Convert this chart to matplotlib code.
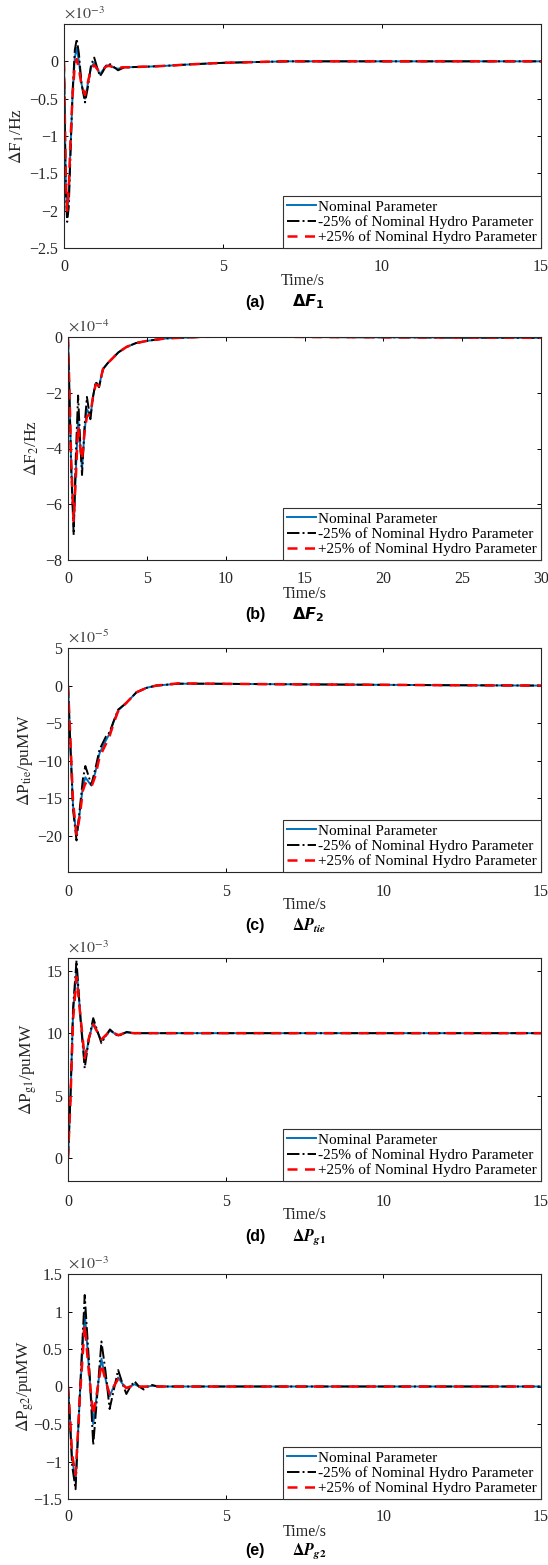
import matplotlib
matplotlib.use('Agg')
import matplotlib.pyplot as plt
from matplotlib.ticker import FuncFormatter, FixedLocator

plt.rcParams['font.family'] = ['Liberation Serif', 'DejaVu Serif']
plt.rcParams['mathtext.fontset'] = 'stix'
plt.rcParams['axes.unicode_minus'] = True

# ---------------- data ----------------
labels = ['Nominal Parameter', '-25% of Nominal Hydro Parameter',
          '+25% of Nominal Hydro Parameter']

# (a) Delta F1, x 1e-3 Hz
t_a = [0, 0.03, 0.06, 0.1, 0.15, 0.2, 0.27, 0.34, 0.4, 0.47, 0.55, 0.66, 0.75, 0.85,
       0.95, 1.04, 1.13, 1.22, 1.32, 1.42, 1.55, 1.7, 1.85, 2.0, 2.3, 2.7, 3.2, 4.0,
       5.0, 6.0, 7.0, 9.0, 12.0, 15.0]
f1_nom = [0, -0.9, -1.7, -2.05, -1.8, -1.2, -0.45, 0.05, 0.18, 0.0, -0.3, -0.5, -0.3,
          -0.08, -0.02, -0.1, -0.17, -0.12, -0.06, -0.05, -0.08, -0.1, -0.08, -0.08,
          -0.075, -0.07, -0.06, -0.04, -0.02, -0.01, 0, 0, 0, 0]
f1_minus = [0, -1.0, -1.8, -2.15, -1.95, -1.3, -0.4, 0.15, 0.3, 0.1, -0.3, -0.55, -0.35,
            -0.05, 0.05, -0.08, -0.2, -0.14, -0.06, -0.03, -0.07, -0.12, -0.09, -0.08,
            -0.075, -0.07, -0.06, -0.04, -0.02, -0.01, 0, 0, 0, 0]
f1_plus = [0, -0.85, -1.6, -2.0, -1.7, -1.1, -0.45, -0.05, 0.03, -0.1, -0.32, -0.45,
           -0.28, -0.1, -0.05, -0.1, -0.15, -0.11, -0.07, -0.06, -0.08, -0.09, -0.08,
           -0.08, -0.075, -0.07, -0.06, -0.04, -0.02, -0.01, 0, 0, 0, 0]

# (b) Delta F2, x 1e-4 Hz
t_b = [0, 0.1, 0.2, 0.36, 0.5, 0.64, 0.76, 0.89, 1.05, 1.2, 1.32, 1.42, 1.6, 1.76,
       1.97, 2.22, 2.5, 2.85, 3.2, 3.7, 4.3, 5.0, 6.2, 8.3, 10, 12, 15, 20, 25, 30]
f2_nom = [0, -2.2, -4.5, -6.8, -4.8, -2.9, -3.8, -4.7, -3.4, -2.6, -2.7, -2.85, -2.1,
          -1.65, -1.75, -1.15, -0.95, -0.75, -0.55, -0.36, -0.22, -0.14, -0.05, 0.0,
          0.02, 0.02, 0.0, -0.01, -0.02, -0.03]
f2_minus = [0, -2.3, -4.7, -7.1, -4.2, -2.1, -3.6, -4.95, -3.2, -2.15, -2.6, -2.95, -2.1,
            -1.6, -1.8, -1.15, -0.95, -0.75, -0.55, -0.36, -0.22, -0.14, -0.05, 0.0,
            0.02, 0.02, 0.0, -0.01, -0.02, -0.03]
f2_plus = [0, -2.1, -4.4, -6.6, -5.0, -3.2, -3.9, -4.4, -3.4, -2.85, -2.8, -2.75, -2.1,
           -1.7, -1.75, -1.15, -0.95, -0.75, -0.55, -0.36, -0.22, -0.14, -0.05, 0.0,
           0.02, 0.02, 0.0, -0.01, -0.02, -0.03]

# (c) Delta Ptie, x 1e-5 puMW
t_c = [0, 0.08, 0.16, 0.27, 0.37, 0.47, 0.55, 0.65, 0.74, 0.87, 1.0, 1.2, 1.32, 1.45,
       1.59, 1.85, 2.17, 2.49, 2.8, 3.5, 4.5, 6, 8, 10, 12, 15]
ptie_nom = [0, -8, -16, -20.0, -17, -13.5, -12.2, -12.8, -13.3, -11.5, -9.0, -7.3, -6.4,
            -4.8, -3.3, -2.3, -0.9, -0.3, 0.0, 0.25, 0.25, 0.2, 0.15, 0.1, 0.05, 0.0]
ptie_minus = [0, -8.5, -16.5, -20.6, -16.5, -12.5, -10.7, -12.0, -13.2, -11.0, -8.5,
              -6.8, -6.2, -4.7, -3.2, -2.3, -0.9, -0.3, 0.0, 0.25, 0.25, 0.2, 0.15, 0.1,
              0.05, 0.0]
ptie_plus = [0, -7.5, -15.5, -19.8, -17.5, -14.0, -13.0, -13.3, -13.5, -12.0, -9.5,
             -7.8, -6.7, -5.0, -3.4, -2.3, -0.9, -0.3, 0.0, 0.3, 0.25, 0.2, 0.15, 0.1,
             0.05, 0.0]

# (d) Delta Pg1, x 1e-3 puMW
t_d = [0, 0.08, 0.16, 0.27, 0.4, 0.53, 0.66, 0.8, 0.93, 1.06, 1.2, 1.33, 1.46, 1.6,
       1.73, 1.86, 2.1, 2.5, 3, 5, 10, 15]
pg1_nom = [0, 5.0, 11.5, 15.2, 11.2, 7.7, 9.5, 10.9, 10.1, 9.4, 9.8, 10.2, 10.0, 9.8,
           9.95, 10.05, 10.0, 10.0, 10.0, 10.0, 10.0, 10.0]
pg1_minus = [0, 5.0, 12.0, 15.8, 11.0, 7.2, 9.5, 11.2, 10.2, 9.2, 9.8, 10.3, 10.0, 9.75,
             9.95, 10.1, 10.0, 10.0, 10.0, 10.0, 10.0, 10.0]
pg1_plus = [0, 4.8, 11.0, 14.5, 11.2, 8.0, 9.6, 10.7, 10.1, 9.5, 9.85, 10.15, 10.0, 9.85,
            9.95, 10.05, 10.0, 10.0, 10.0, 10.0, 10.0, 10.0]

# (e) Delta Pg2, x 1e-3 puMW
t_e = [0, 0.06, 0.13, 0.24, 0.38, 0.53, 0.67, 0.8, 0.93, 1.06, 1.19, 1.32, 1.45, 1.59,
       1.72, 1.85, 1.98, 2.11, 2.25, 2.4, 2.53, 2.67, 2.85, 3.2, 4, 6, 10, 15]
pg2_nom = [0, -0.4, -0.95, -1.27, -0.1, 1.0, 0.2, -0.5, -0.05, 0.37, 0.1, -0.13, 0.0,
           0.12, 0.04, -0.02, 0.0, 0.03, 0.0, -0.01, 0.0, 0.01, 0.0, 0, 0, 0, 0, 0]
pg2_minus = [0, -0.45, -1.05, -1.37, -0.05, 1.22, 0.3, -0.78, -0.1, 0.6, 0.2, -0.3,
             -0.05, 0.22, 0.05, -0.1, 0.0, 0.07, 0.0, -0.04, 0.0, 0.02, 0.0, 0, 0, 0, 0, 0]
pg2_plus = [0, -0.38, -0.9, -1.18, -0.12, 0.82, 0.15, -0.38, -0.05, 0.3, 0.08, -0.1, 0.0,
            0.1, 0.03, -0.02, 0, 0.02, 0, 0, 0, 0, 0, 0, 0, 0, 0, 0]

# ---------------- figure ----------------
W, H = 548, 1565
fig = plt.figure(figsize=(W / 100, H / 100), dpi=100)
TXT = '#262626'


def add_px_axes(l, t, r, b):
    return fig.add_axes([l / W, 1 - b / H, (r - l) / W, (b - t) / H])


fmt = FuncFormatter(lambda v, p: ('%g' % v).replace('-', '\u2212'))


def panel(box, t, ys, xlim, xticks, ylim, yticks, ylabel, mult, ylab_x,
          xlab_y, tick_y):
    l, top, r, b = box
    ax = add_px_axes(l, top, r, b)
    ax.plot(t, ys[0], color='#0072BD', lw=1.4, ls='-', label=labels[0])
    ax.plot(t, ys[1], color='k', lw=1.4, ls='-.', label=labels[1])
    ax.plot(t, ys[2], color='#FF0000', lw=1.8, ls=(0, (4, 3)), label=labels[2])
    ax.set_xlim(*xlim)
    ax.set_ylim(*ylim)
    ax.xaxis.set_major_locator(FixedLocator(xticks))
    ax.yaxis.set_major_locator(FixedLocator(yticks))
    ax.xaxis.set_major_formatter(fmt)
    ax.yaxis.set_major_formatter(fmt)
    ax.tick_params(direction='in', length=3, width=0.7, labelsize=11.5,
                   top=True, right=True, pad=4, labelcolor=TXT)
    ax.tick_params(axis='x', pad=(tick_y - b) - 6)
    for s in ax.spines.values():
        s.set_linewidth(0.8)
        s.set_color(TXT)
    h = b - top
    ax.set_ylabel(ylabel, fontsize=12.5, va='center', color=TXT)
    ax.yaxis.set_label_coords((ylab_x - l) / (r - l), 0.5)
    ax.set_xlabel('Time/s', fontsize=11.5, va='center', color=TXT)
    ax.xaxis.set_label_coords(0.5, -(xlab_y - b) / h)
    ax.text(0, 1 + 1.5 / h, mult, transform=ax.transAxes,
            fontsize=11.5, ha='left', va='bottom', color='#444444')
    leg = ax.legend(loc='lower right', fontsize=11, borderaxespad=0,
                    handlelength=1.9, handletextpad=0.15, labelspacing=0.1,
                    borderpad=0.25, fancybox=False, framealpha=1,
                    edgecolor='#333333')
    leg.get_frame().set_linewidth(0.8)
    return ax


def caption(letter, expr, y_px, mfam):
    fig.text(245 / W, 1 - y_px / H, '(%s)' % letter, family='Liberation Sans',
             weight='bold', fontsize=11.5, ha='left', va='center')
    fig.text(292 / W, 1 - y_px / H, expr, fontsize=11.5, ha='left', va='center',
             math_fontfamily=mfam)


panel((64, 24, 541, 248), t_a, [f1_nom, f1_minus, f1_plus], (0, 15), [0, 5, 10, 15],
      (-2.5, 0.5), [-2.5, -2, -1.5, -1, -0.5, 0], r'$\Delta$F$_1$/Hz',
      r'$\times10^{-3}$', 17, 281, 262)
caption('a', r'$\mathbf{\Delta}\mathbfit{F}_{\mathbf{1}}$', 302, 'dejavusans')

panel((68, 337, 541, 560), t_b, [f2_nom, f2_minus, f2_plus], (0, 30),
      [0, 5, 10, 15, 20, 25, 30], (-8, 0), [-8, -6, -4, -2, 0],
      r'$\Delta$F$_2$/Hz', r'$\times10^{-4}$', 32, 594, 574)
caption('b', r'$\mathbf{\Delta}\mathbfit{F}_{\mathbf{2}}$', 615, 'dejavusans')

panel((68, 648, 541, 872), t_c, [ptie_nom, ptie_minus, ptie_plus], (0, 15),
      [0, 5, 10, 15], (-24.8, 5), [-20, -15, -10, -5, 0, 5],
      r'$\Delta$P$_{\rm tie}$/puMW', r'$\times10^{-5}$', 25, 905, 887)
caption('c', r'$\mathbf{\Delta}\mathbfit{P}_{\mathbfit{tie}}$', 926, 'stix')

panel((68, 958, 541, 1181), t_d, [pg1_nom, pg1_minus, pg1_plus], (0, 15),
      [0, 5, 10, 15], (-1.8, 16), [0, 5, 10, 15],
      r'$\Delta$P$_{\rm g1}$/puMW', r'$\times10^{-3}$', 28, 1215, 1196)
caption('d', r'$\mathbf{\Delta}\mathbfit{P}_{\mathbfit{g}\mathbf{1}}$', 1237, 'stix')

panel((68, 1274, 541, 1499), t_e, [pg2_nom, pg2_minus, pg2_plus], (0, 15),
      [0, 5, 10, 15], (-1.5, 1.5), [-1.5, -1, -0.5, 0, 0.5, 1, 1.5],
      r'$\Delta$P$_{\rm g2}$/puMW', r'$\times10^{-3}$', 25, 1532, 1512)
caption('e', r'$\mathbf{\Delta}\mathbfit{P}_{\mathbfit{g}\mathbf{2}}$', 1551, 'stix')

fig.savefig('out.png', dpi=100)
